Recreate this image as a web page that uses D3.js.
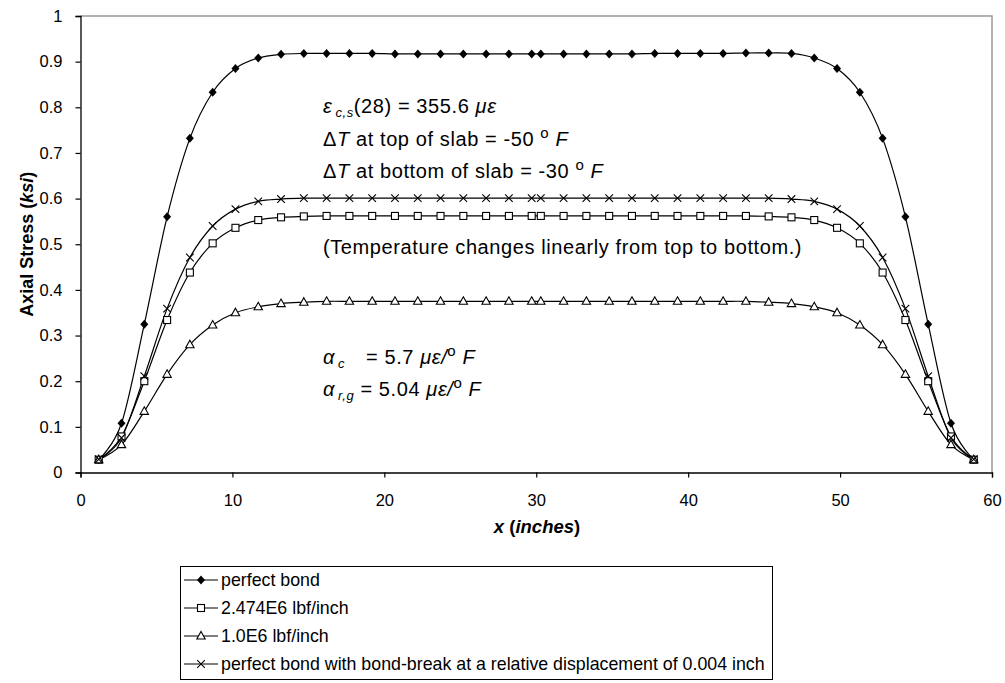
<!DOCTYPE html>
<html>
<head>
<meta charset="utf-8">
<script src="https://cdn.jsdelivr.net/npm/d3@7"></script>
<style>
  html, body { margin: 0; padding: 0; background: #fff; }
  svg { display: block; }
  text { font-family: "Liberation Sans", Arial, sans-serif; fill: #000; }
</style>
</head>
<body>
<svg id="chart" width="1005" height="683"></svg>
<script>
// Sample positions along the slab (inches)
const xPos = [
  1.2, 2.7, 4.2, 5.7, 7.2, 8.7, 10.2, 11.7, 13.2, 14.7,
  16.2, 17.7, 19.2, 20.7, 22.2, 23.7, 25.2, 26.7, 28.2, 29.7,
  30.3, 31.8, 33.3, 34.8, 36.3, 37.8, 39.3, 40.8, 42.3, 43.8,
  45.3, 46.8, 48.3, 49.8, 51.3, 52.8, 54.3, 55.8, 57.3, 58.8
];

// Axial stress (ksi) for each bond condition
const perfectBond = [
  0.028, 0.108, 0.325, 0.560, 0.732, 0.833, 0.885, 0.908, 0.916, 0.918,
  0.918, 0.918, 0.918, 0.917, 0.917, 0.917, 0.917, 0.917, 0.917, 0.917,
  0.917, 0.917, 0.917, 0.917, 0.917, 0.918, 0.918, 0.918, 0.918, 0.919,
  0.919, 0.918, 0.908, 0.885, 0.833, 0.732, 0.560, 0.325, 0.108, 0.028
];
const stiffness2474 = [
  0.028, 0.079, 0.200, 0.334, 0.438, 0.502, 0.536, 0.553, 0.559, 0.561,
  0.562, 0.562, 0.562, 0.562, 0.562, 0.562, 0.562, 0.562, 0.562, 0.562,
  0.562, 0.562, 0.562, 0.562, 0.562, 0.562, 0.562, 0.562, 0.562, 0.562,
  0.561, 0.559, 0.553, 0.536, 0.502, 0.438, 0.334, 0.200, 0.079, 0.028
];
const stiffness1 = [
  0.028, 0.061, 0.134, 0.215, 0.280, 0.323, 0.350, 0.363, 0.370, 0.373,
  0.375, 0.375, 0.375, 0.375, 0.375, 0.375, 0.375, 0.375, 0.375, 0.375,
  0.375, 0.375, 0.375, 0.375, 0.375, 0.375, 0.375, 0.375, 0.375, 0.375,
  0.373, 0.370, 0.363, 0.350, 0.323, 0.280, 0.215, 0.134, 0.061, 0.028
];
const bondBreak = [
  0.029, 0.076, 0.211, 0.359, 0.471, 0.540, 0.577, 0.594, 0.599, 0.601,
  0.601, 0.601, 0.601, 0.601, 0.601, 0.601, 0.601, 0.601, 0.601, 0.601,
  0.601, 0.601, 0.601, 0.601, 0.601, 0.601, 0.601, 0.601, 0.601, 0.601,
  0.601, 0.599, 0.594, 0.577, 0.540, 0.471, 0.359, 0.211, 0.076, 0.029
];

const seriesNames = [
  "perfect bond",
  "2.474E6 lbf/inch",
  "1.0E6 lbf/inch",
  "perfect bond with bond-break at a relative displacement of 0.004 inch"
];
const xTicks = [0, 10, 20, 30, 40, 50, 60];
const yTicks = [0, 0.1, 0.2, 0.3, 0.4, 0.5, 0.6, 0.7, 0.8, 0.9, 1];

const series = [
  { name: seriesNames[0], values: perfectBond, marker: "diamond" },
  { name: seriesNames[1], values: stiffness2474, marker: "square" },
  { name: seriesNames[2], values: stiffness1, marker: "triangle" },
  { name: seriesNames[3], values: bondBreak, marker: "cross" }
];

const svg = d3.select("#chart");
const plot = { left: 80.5, right: 992, top: 16, bottom: 472.5 };

const x = d3.scaleLinear().domain([0, 60]).range([plot.left, plot.right]);
const y = d3.scaleLinear().domain([0, 1]).range([plot.bottom, plot.top]);

// Plot frame: grey top/right edges
svg.append("path")
  .attr("d", `M${plot.left},${plot.top}H${plot.right}V${plot.bottom}`)
  .attr("fill", "none").attr("stroke", "#999").attr("stroke-width", 1.5);

// Axes
const xAxis = svg.append("g")
  .attr("transform", `translate(0,${plot.bottom})`)
  .call(d3.axisBottom(x).tickValues(xTicks).tickSize(5).tickPadding(17).tickFormat(d3.format("d")));
const yAxis = svg.append("g")
  .attr("transform", `translate(${plot.left},0)`)
  .call(d3.axisLeft(y).tickValues(yTicks).tickSize(5).tickPadding(13).tickFormat(d => d === 0 || d === 1 ? d3.format("d")(d) : d3.format(".1f")(d)));
[xAxis, yAxis].forEach(g => {
  g.select(".domain").attr("stroke", "#000").attr("stroke-width", 1.3);
  g.selectAll(".tick line").attr("stroke", "#000").attr("stroke-width", 1.2);
  g.selectAll(".tick text").attr("font-size", 16.5).attr("font-family", "Liberation Sans, Arial, sans-serif").attr("fill", "#000");
});

// Axis titles
const yTitle = svg.append("text")
  .attr("transform", `translate(33,${(plot.top + plot.bottom) / 2}) rotate(-90)`)
  .attr("text-anchor", "middle").attr("font-size", 18).attr("font-weight", "bold");
yTitle.append("tspan").text("Axial Stress (");
yTitle.append("tspan").attr("font-style", "italic").text("ksi");
yTitle.append("tspan").text(")");

const xTitle = svg.append("text")
  .attr("x", 537).attr("y", 533)
  .attr("text-anchor", "middle").attr("font-size", 18.5).attr("font-weight", "bold").attr("font-style", "italic");
xTitle.append("tspan").text("x");
xTitle.append("tspan").attr("font-style", "normal").text(" (");
xTitle.append("tspan").text("inches");
xTitle.append("tspan").attr("font-style", "normal").text(")");

// Marker shapes
function drawMarker(g, type, cx, cy) {
  if (type === "diamond") {
    g.append("path").attr("d", `M${cx},${cy - 4.5}L${cx + 4},${cy}L${cx},${cy + 4.5}L${cx - 4},${cy}Z`)
      .attr("fill", "#000");
  } else if (type === "square") {
    g.append("rect").attr("x", cx - 3.5).attr("y", cy - 3.5).attr("width", 7).attr("height", 7)
      .attr("fill", "#fff").attr("stroke", "#000").attr("stroke-width", 1.1);
  } else if (type === "triangle") {
    g.append("path").attr("d", `M${cx},${cy - 4.5}L${cx + 4.2},${cy + 3}L${cx - 4.2},${cy + 3}Z`)
      .attr("fill", "#fff").attr("stroke", "#000").attr("stroke-width", 1.1);
  } else if (type === "cross") {
    g.append("path").attr("d", `M${cx - 3.8},${cy - 3.8}L${cx + 3.8},${cy + 3.8}M${cx - 3.8},${cy + 3.8}L${cx + 3.8},${cy - 3.8}`)
      .attr("stroke", "#000").attr("stroke-width", 1.1);
  }
}

// Smoothed series lines and markers
const line = d3.line().curve(d3.curveCardinal.tension(0))
  .x((d, i) => x(xPos[i])).y(d => y(d));

series.forEach(s => {
  svg.append("path").datum(s.values).attr("d", line)
    .attr("fill", "none").attr("stroke", "#000").attr("stroke-width", 1.2);
});
series.forEach(s => {
  const g = svg.append("g");
  s.values.forEach((v, i) => drawMarker(g, s.marker, x(xPos[i]), y(v)));
});

// Annotations
const ann = svg.append("g").attr("font-size", 20).attr("letter-spacing", 0.6);
const annX = 323;
const subSize = 13, supSize = 15;

function degF(t) {
  t.append("tspan").attr("font-size", supSize).attr("dy", -8).text("o");
  t.append("tspan").attr("dy", 8).attr("font-style", "italic").text(" F");
}

const l1 = ann.append("text").attr("x", annX).attr("y", 113);
l1.append("tspan").attr("font-style", "italic").text("ε");
l1.append("tspan").attr("font-style", "italic").attr("font-size", subSize).attr("dy", 4).attr("dx", 3).text("c,s");
l1.append("tspan").attr("dy", -4).text("(28) = 355.6 ");
l1.append("tspan").attr("font-style", "italic").text("με");

const l2 = ann.append("text").attr("x", annX).attr("y", 146);
l2.append("tspan").text("Δ");
l2.append("tspan").attr("font-style", "italic").text("T");
l2.append("tspan").text(" at top of slab = -50 ");
degF(l2);

const l3 = ann.append("text").attr("x", annX).attr("y", 178);
l3.append("tspan").text("Δ");
l3.append("tspan").attr("font-style", "italic").text("T");
l3.append("tspan").text(" at bottom of slab = -30 ");
degF(l3);

ann.append("text").attr("x", annX).attr("y", 254)
  .text("(Temperature changes linearly from top to bottom.)");

const l4 = ann.append("text").attr("x", annX).attr("y", 364);
l4.append("tspan").attr("font-style", "italic").text("α");
l4.append("tspan").attr("font-style", "italic").attr("font-size", subSize).attr("dy", 4).attr("dx", 3).text("c");
l4.append("tspan").attr("dy", -4).attr("x", 366).text("= 5.7 ");
l4.append("tspan").attr("font-style", "italic").text("με/");
degF(l4);

const l5 = ann.append("text").attr("x", annX).attr("y", 396);
l5.append("tspan").attr("font-style", "italic").text("α");
l5.append("tspan").attr("font-style", "italic").attr("font-size", subSize).attr("dy", 4).attr("dx", 3).text("r,g");
l5.append("tspan").attr("dy", -4).text(" = 5.04 ");
l5.append("tspan").attr("font-style", "italic").text("με/");
degF(l5);

// Legend
const legend = svg.append("g");
legend.append("rect").attr("x", 180.5).attr("y", 566.5).attr("width", 592).attr("height", 113)
  .attr("fill", "#fff").attr("stroke", "#000").attr("stroke-width", 1);
series.forEach((s, i) => {
  const cy = 580 + i * 28;
  legend.append("line").attr("x1", 184).attr("x2", 218).attr("y1", cy).attr("y2", cy)
    .attr("stroke", "#000").attr("stroke-width", 1.2);
  drawMarker(legend, s.marker, 201, cy);
  legend.append("text").attr("x", 221).attr("y", cy + 6).attr("font-size", 17.8).text(s.name);
});
</script>
</body>
</html>
